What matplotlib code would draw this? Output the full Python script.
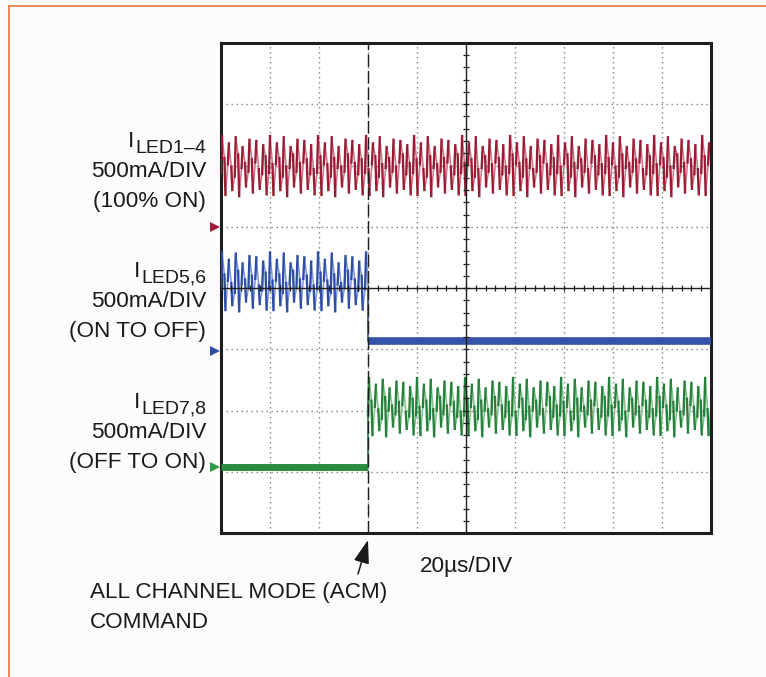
import numpy as np
import matplotlib
matplotlib.use("Agg")
import matplotlib.pyplot as plt
from matplotlib.lines import Line2D

plt.rcParams['font.family'] = ['Liberation Sans', 'DejaVu Sans']

# ---------------- data (scope divisions) ----------------
N_XDIV = 10            # 20us/DIV
N_YDIV = 8
ACM_T = 3.0            # time (div) of the ACM command
HALF = 0.07            # half ripple period (div)

# ripple extremes (div), cycled; knees = where the fast edge starts
red_peaks = [6.48, 6.36, 6.46, 6.30, 6.42, 6.40, 6.33]
red_troughs = [5.52, 5.60, 5.50, 5.66, 5.56, 5.62, 5.53]
red_knees_hi = [6.12, 5.98, 6.18, 6.04, 6.10, 5.94, 6.15, 6.02]
red_knees_lo = [5.88, 6.02, 5.82, 5.96, 5.90, 6.05, 5.86]
blue_peaks = [4.58, 4.46, 4.56, 4.40, 4.52, 4.50, 4.43]
blue_troughs = [3.64, 3.72, 3.62, 3.78, 3.68, 3.74, 3.65]
blue_knees_hi = [4.22, 4.08, 4.28, 4.14, 4.20, 4.04, 4.25, 4.12]
blue_knees_lo = [3.98, 4.12, 3.92, 4.06, 4.00, 4.15, 3.96]
green_peaks = [2.53, 2.42, 2.50, 2.36, 2.47, 2.45, 2.38]
green_troughs = [1.60, 1.68, 1.58, 1.74, 1.64, 1.70, 1.61]
green_knees_hi = [2.16, 2.02, 2.22, 2.08, 2.14, 1.98, 2.19, 2.06]
green_knees_lo = [1.92, 2.06, 1.86, 2.00, 1.94, 2.09, 1.90]

blue_off_level = 3.13   # blue after ACM (off)
green_off_level = 1.08  # green before ACM (off)

red_ground = 5.0
blue_ground = 2.97
green_ground = 1.08

labels_led = ["LED1\u20134", "LED5,6", "LED7,8"]
labels_scale = ["500mA/DIV", "500mA/DIV", "500mA/DIV"]
labels_state = ["(100% ON)", "(ON TO OFF)", "(OFF TO ON)"]
time_label = "20\u00b5s/DIV"
cmd_lines = ["ALL CHANNEL MODE (ACM)", "COMMAND"]

# ---------------- figure ----------------
W, H = 766, 677
fig = plt.figure(figsize=(W / 100, H / 100), dpi=100, facecolor="#fcfcfc")
ax = fig.add_axes([221 / W, 1 - 533 / H, 490 / W, 490 / H])
ax.set_xlim(0, N_XDIV)
ax.set_ylim(0, N_YDIV)
ax.set_facecolor("white")
ax.set_xticks([])
ax.set_yticks([])
for s in ax.spines.values():
    s.set_linewidth(2.2)
    s.set_color("#1e1e1e")

# grid
for i in range(1, N_XDIV):
    if i == 5:
        continue
    ax.axvline(i, color="#808080", lw=1.0, ls=(0, (1, 2.6)), zorder=1)
for j in range(1, N_YDIV):
    if j == 4:
        continue
    ax.axhline(j, color="#808080", lw=1.0, ls=(0, (1, 2.6)), zorder=1)

# center graticule with minor ticks
ax.axvline(5, color="#1e1e1e", lw=1.0, zorder=4)
ax.axhline(4, color="#1e1e1e", lw=1.0, zorder=4)
mt_x = np.arange(0.2, N_XDIV, 0.2)
ax.vlines(mt_x, 4 - 0.05, 4 + 0.05, color="#1e1e1e", lw=0.9, zorder=4)
mt_y = np.arange(0.2, N_YDIV, 0.2)
ax.hlines(mt_y, 5 - 0.06, 5 + 0.06, color="#1e1e1e", lw=0.9, zorder=4)

# trigger / ACM dashed line
ax.axvline(ACM_T, color="#1e1e1e", lw=1.0, ls=(0, (9, 3)), zorder=5)


def ripple(t0, t1, peaks, troughs, knees_hi, knees_lo):
    """Alternating half-cycles: fast edge (dark) to an extreme, slow slope (light) to next knee."""
    lx, ly, dx, dy = [], [], [], []
    t, k = t0, 0
    while t < t1 - 1e-9:
        j = k // 2
        up = (k % 2 == 0)
        if up:
            start = knees_lo[j % len(knees_lo)]
            ext = peaks[j % len(peaks)]
            end = knees_hi[j % len(knees_hi)]
        else:
            start = knees_hi[j % len(knees_hi)]
            ext = troughs[j % len(troughs)]
            end = knees_lo[(j + 1) % len(knees_lo)]
        te = t + 0.3 * HALF
        tn = min(t + HALF, t1)
        dx += [t, te, np.nan]
        dy += [start, ext, np.nan]
        lx += [te, tn, np.nan]
        ly += [ext, end, np.nan]
        t += HALF
        k += 1
    return lx, ly, dx, dy


def draw_ripple(t0, t1, peaks, troughs, khi, klo, light, dark):
    lx, ly, dx, dy = ripple(t0, t1, peaks, troughs, khi, klo)
    ax.plot(lx, ly, color=light, lw=1.1, zorder=2)
    ax.plot(dx, dy, color=dark, lw=1.7, zorder=3)


RED_L, RED_D = "#cc7284", "#9a1b33"
BLU_L, BLU_D = "#8094d0", "#2d4ea6"
GRN_L, GRN_D = "#80c08b", "#23813a"

draw_ripple(0, N_XDIV, red_peaks, red_troughs, red_knees_hi, red_knees_lo, RED_L, RED_D)
draw_ripple(0, ACM_T, blue_peaks, blue_troughs, blue_knees_hi, blue_knees_lo, BLU_L, BLU_D)
ax.plot([ACM_T, ACM_T], [blue_knees_lo[0], blue_off_level], color=BLU_D, lw=1.2, zorder=3)
ax.plot([ACM_T, N_XDIV], [blue_off_level, blue_off_level], color="#3553a8",
        lw=5.5, solid_capstyle="butt", zorder=3)

ax.plot([0, ACM_T], [green_off_level, green_off_level], color="#2a8a40",
        lw=5.0, solid_capstyle="butt", zorder=3)
ax.plot([ACM_T, ACM_T], [green_off_level, green_knees_lo[0]], color=GRN_D, lw=1.2, zorder=3)
draw_ripple(ACM_T, N_XDIV, green_peaks, green_troughs, green_knees_hi, green_knees_lo,
            GRN_L, GRN_D)

# ground markers
for g, c in [(red_ground, "#a01c3a"), (blue_ground, "#3050a8"), (green_ground, "#2e9a48")]:
    ax.plot([-0.13], [g], marker=">", ms=7, color=c, clip_on=False, zorder=6,
            markeredgewidth=0)

# ---------------- text ----------------
FS = 16.2
FS_SUB = 14.0
TC = "#1a1a1a"


def fp(x, y):
    return x / W, 1 - y / H


fig.canvas.draw()
renderer = fig.canvas.get_renderer()
base = [177, 307, 438]
for b, led, sc, st in zip(base, labels_led, labels_scale, labels_state):
    t_led = fig.text(*fp(206, b - 24), led, fontsize=FS_SUB, ha="right", va="baseline",
                     color=TC)
    bb = t_led.get_window_extent(renderer)
    fig.text((bb.x0 - 1) / W, 1 - (b - 30) / H, "I", fontsize=FS, ha="right",
             va="baseline", color=TC)
    fig.text(*fp(206, b), sc, fontsize=FS, ha="right", va="baseline", color=TC)
    fig.text(*fp(206, b + 30), st, fontsize=FS, ha="right", va="baseline", color=TC)

fig.text(*fp(420, 572), time_label, fontsize=FS, ha="left", va="baseline", color=TC)
fig.text(*fp(90, 598), cmd_lines[0], fontsize=FS, ha="left", va="baseline", color=TC)
fig.text(*fp(90, 628), cmd_lines[1], fontsize=FS, ha="left", va="baseline", color=TC)

ax.annotate("", xy=(368, H - 540), xycoords="figure pixels",
            xytext=(358, H - 574), textcoords="figure pixels",
            arrowprops=dict(arrowstyle="-|>,head_length=0.9,head_width=0.3",
                            color=TC, lw=1.1, mutation_scale=16,
                            shrinkA=0, shrinkB=0))

# orange frame
fig.add_artist(Line2D([9 / W, 1], [1 - 6 / H, 1 - 6 / H], color="#e8743b", lw=1.2,
                      transform=fig.transFigure))
fig.add_artist(Line2D([9 / W, 9 / W], [0, 1 - 6 / H], color="#e8743b", lw=1.2,
                      transform=fig.transFigure))

fig.savefig("out.png", dpi=100, facecolor=fig.get_facecolor())
